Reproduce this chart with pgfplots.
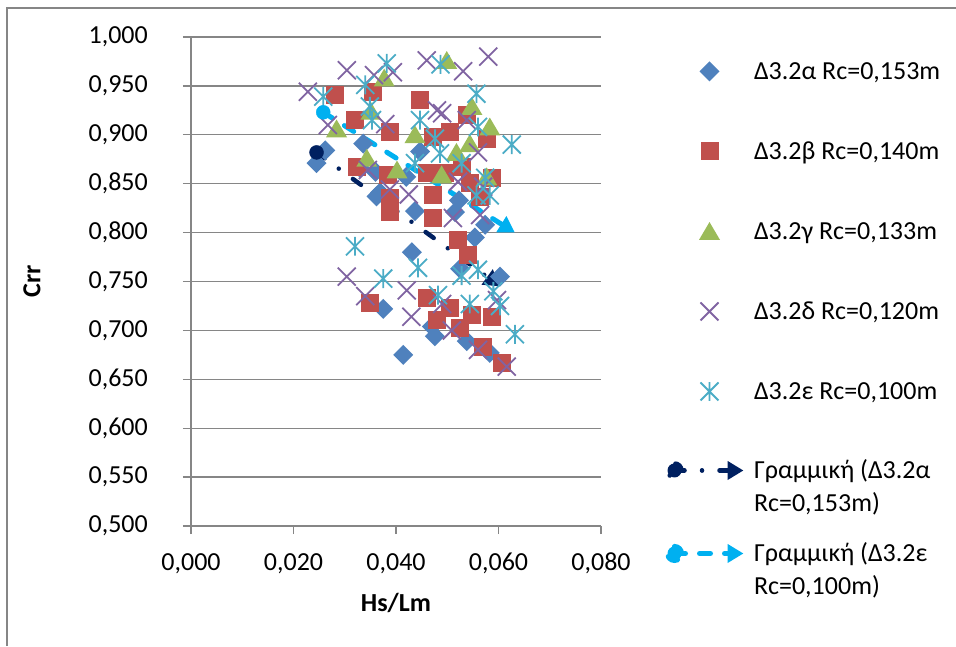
\documentclass[border=0pt]{standalone}
\usepackage{fontspec}
\setmainfont{Carlito}
\usepackage{pgfplots}
\pgfplotsset{compat=1.18}
\usetikzlibrary{arrows.meta}

\definecolor{cA}{HTML}{4F81BD}
\definecolor{cB}{HTML}{C0504D}
\definecolor{cC}{HTML}{9BBB59}
\definecolor{cD}{HTML}{8064A2}
\definecolor{cE}{HTML}{4BACC6}
\definecolor{tnavy}{HTML}{002060}
\definecolor{tblue}{HTML}{00B0F0}
\definecolor{gridgray}{HTML}{868686}

\pgfdeclareplotmark{exdiamond}{%
  \pgfpathmoveto{\pgfqpoint{0pt}{\pgfplotmarksize}}%
  \pgfpathlineto{\pgfqpoint{\pgfplotmarksize}{0pt}}%
  \pgfpathlineto{\pgfqpoint{0pt}{-\pgfplotmarksize}}%
  \pgfpathlineto{\pgfqpoint{-\pgfplotmarksize}{0pt}}%
  \pgfpathclose\pgfusepathqfill}
\pgfdeclareplotmark{extri}{%
  \pgfpathmoveto{\pgfqpoint{0pt}{0.9\pgfplotmarksize}}%
  \pgfpathlineto{\pgfqpoint{\pgfplotmarksize}{-0.8\pgfplotmarksize}}%
  \pgfpathlineto{\pgfqpoint{-\pgfplotmarksize}{-0.8\pgfplotmarksize}}%
  \pgfpathclose\pgfusepathqfill}
\pgfdeclareplotmark{exsq}{%
  \pgfpathrectangle{\pgfqpoint{-\pgfplotmarksize}{-\pgfplotmarksize}}{\pgfqpoint{2\pgfplotmarksize}{2\pgfplotmarksize}}%
  \pgfusepathqfill}
\pgfdeclareplotmark{exx}{%
  \pgfpathmoveto{\pgfqpoint{-\pgfplotmarksize}{-\pgfplotmarksize}}%
  \pgfpathlineto{\pgfqpoint{\pgfplotmarksize}{\pgfplotmarksize}}%
  \pgfpathmoveto{\pgfqpoint{-\pgfplotmarksize}{\pgfplotmarksize}}%
  \pgfpathlineto{\pgfqpoint{\pgfplotmarksize}{-\pgfplotmarksize}}%
  \pgfusepathqstroke}
\pgfdeclareplotmark{exstar}{%
  \pgfpathmoveto{\pgfqpoint{-\pgfplotmarksize}{-\pgfplotmarksize}}%
  \pgfpathlineto{\pgfqpoint{\pgfplotmarksize}{\pgfplotmarksize}}%
  \pgfpathmoveto{\pgfqpoint{-\pgfplotmarksize}{\pgfplotmarksize}}%
  \pgfpathlineto{\pgfqpoint{\pgfplotmarksize}{-\pgfplotmarksize}}%
  \pgfpathmoveto{\pgfqpoint{0pt}{-1.05\pgfplotmarksize}}%
  \pgfpathlineto{\pgfqpoint{0pt}{1.05\pgfplotmarksize}}%
  \pgfusepathqstroke}

\pgfplotsset{
  scat/.style={only marks,
    legend image code/.code={\path[draw=none,fill=none,-] (-43pt,8.5pt) (34pt,8.5pt); \draw[##1] plot coordinates {(0pt,8.5pt)};}},
  trendA/.style={no markers,
    legend image code/.code={\path[draw=none,fill=none,-] (-43pt,8.5pt) (34pt,8.5pt); \draw[##1] (-35pt,8.5pt) -- (34pt,8.5pt); \fill[tnavy] (-35pt,8.5pt) circle (7pt);}},
  trendE/.style={no markers,
    legend image code/.code={\path[draw=none,fill=none,-] (-43pt,8.5pt) (34pt,8.5pt); \draw[##1] (-35pt,8.5pt) -- (34pt,8.5pt); \fill[tblue] (-35pt,8.5pt) circle (7pt);}},
}

\begin{document}
\begin{tikzpicture}
\begin{axis}[
  at={(191pt,120pt)}, anchor=south west,
  scale only axis, width=410pt, height=489pt,
  xmin=0, xmax=0.08, ymin=0.5, ymax=1.0,
  xtick={0,0.02,0.04,0.06,0.08},
  ytick={0.5,0.55,0.6,0.65,0.7,0.75,0.8,0.85,0.9,0.95,1.0},
  scaled ticks=false,
  axis lines=left, axis line style={-, color=gridgray, line width=1.6pt},
  ymajorgrids, grid style={color=gridgray, line width=1.4pt},
  tick align=outside, major tick length=8pt,
  major tick style={color=gridgray, line width=1.4pt},
  tick label style={font=\fontsize{26}{33}\selectfont},
  /pgf/number format/fixed, /pgf/number format/fixed zerofill,
  /pgf/number format/precision=3, /pgf/number format/use comma,
  /pgf/number format/assume math mode=true,
  yticklabel style={anchor=east, inner sep=0pt, xshift=-35pt},
  xticklabel style={anchor=north, inner sep=0pt, yshift=-19pt},
  xlabel={Hs/Lm}, ylabel={Crr},
  every axis x label/.style={at={(axis description cs:0.5,-0.1575)}, anchor=center,
    font=\bfseries\fontsize{26}{33}\selectfont},
  every axis y label/.style={at={(axis description cs:-0.3878,0.5)}, rotate=90, anchor=center,
    font=\bfseries\fontsize{26}{33}\selectfont},
  legend style={at={(axis description cs:1.1561,0.9530)}, anchor=north west,
    draw=none, fill=none, inner sep=0pt, outer sep=0pt, row sep=0pt, column sep=8pt,
    font=\fontsize{26}{33}\selectfont, cells={anchor=base west},
    nodes={inner sep=0pt, text height=20pt, text depth=60pt}},
]
\addplot[scat, mark=exdiamond, mark size=10pt, color=cA] coordinates {
(0.0245,0.871) (0.0262,0.884) (0.0336,0.891) (0.0330,0.866) (0.0362,0.837)
(0.0369,0.841) (0.0360,0.862) (0.0447,0.883) (0.0420,0.857) (0.0437,0.822)
(0.0431,0.780) (0.0515,0.821) (0.0523,0.833) (0.0525,0.763) (0.0554,0.795)
(0.0574,0.808) (0.0603,0.755) (0.0375,0.722) (0.0470,0.704) (0.0476,0.694)
(0.0538,0.689) (0.0414,0.675) (0.0583,0.677)
};
\addlegendentry{Δ3.2α Rc=0,153m}
\addplot[scat, mark=exsq, mark size=9pt, color=cB] coordinates {
(0.0281,0.941) (0.0320,0.915) (0.0355,0.944) (0.0388,0.903) (0.0323,0.867)
(0.0384,0.859) (0.0388,0.835) (0.0388,0.821) (0.0447,0.936) (0.0472,0.898)
(0.0505,0.903) (0.0538,0.920) (0.0577,0.896) (0.0460,0.861) (0.0496,0.861)
(0.0528,0.867) (0.0587,0.856) (0.0544,0.851) (0.0472,0.838) (0.0472,0.815)
(0.0564,0.836) (0.0521,0.792) (0.0540,0.777) (0.0349,0.728) (0.0460,0.733)
(0.0505,0.723) (0.0480,0.711) (0.0525,0.702) (0.0548,0.716) (0.0587,0.714)
(0.0570,0.683) (0.0606,0.667)
};
\addlegendentry{Δ3.2β Rc=0,140m}
\addplot[scat, mark=extri, mark size=10.5pt, color=cC] coordinates {
(0.0284,0.906) (0.0343,0.876) (0.0351,0.924) (0.0377,0.958) (0.0402,0.864)
(0.0437,0.900) (0.0489,0.859) (0.0499,0.976) (0.0518,0.882) (0.0544,0.891)
(0.0548,0.929) (0.0583,0.908) (0.0577,0.857)
};
\addlegendentry{Δ3.2γ Rc=0,133m}
\addplot[scat, mark=exx, mark size=9pt, color=cD, mark options={line width=1.8pt}] coordinates {
(0.0228,0.944) (0.0304,0.966) (0.0267,0.910) (0.0357,0.961) (0.0394,0.964)
(0.0379,0.911) (0.0345,0.864) (0.0388,0.844) (0.0460,0.976) (0.0531,0.965)
(0.0580,0.980) (0.0480,0.925) (0.0490,0.922) (0.0538,0.915) (0.0560,0.882)
(0.0521,0.852) (0.0570,0.847) (0.0425,0.839) (0.0511,0.815) (0.0564,0.818)
(0.0304,0.755) (0.0340,0.735) (0.0421,0.741) (0.0430,0.714) (0.0490,0.727)
(0.0509,0.700) (0.0597,0.731) (0.0560,0.680) (0.0616,0.663)
};
\addlegendentry{Δ3.2δ Rc=0,120m}
\addplot[scat, mark=exstar, mark size=9pt, color=cE, mark options={line width=1.8pt}] coordinates {
(0.0258,0.939) (0.0340,0.951) (0.0349,0.929) (0.0353,0.915) (0.0382,0.973)
(0.0447,0.915) (0.0487,0.972) (0.0557,0.942) (0.0476,0.896) (0.0560,0.908)
(0.0626,0.890) (0.0486,0.881) (0.0528,0.871) (0.0437,0.871) (0.0574,0.856)
(0.0557,0.838) (0.0583,0.838) (0.0320,0.786) (0.0375,0.753) (0.0443,0.764)
(0.0482,0.736) (0.0528,0.756) (0.0560,0.762) (0.0544,0.727) (0.0603,0.725)
(0.0590,0.740) (0.0632,0.696)
};
\addlegendentry[text depth=59pt]{Δ3.2ε Rc=0,100m}
\addplot[trendA, color=tnavy, line width=4.5pt, line cap=round,
  dash pattern=on 10pt off 17.5pt on 0.01pt off 17.5pt,
  -{Triangle[length=16pt,width=18pt]}] coordinates {(0.0245,0.882) (0.0603,0.745)};
\addlegendentry[text depth=63pt]{\vtop{\hbox{Γραμμική (Δ3.2α}\hbox{Rc=0,153m)}}}
\addplot[trendE, color=tblue, line width=5pt, line cap=round,
  dash pattern=on 11pt off 14pt,
  -{Triangle[length=16pt,width=18pt]}] coordinates {(0.0258,0.923) (0.0632,0.800)};
\addlegendentry{\vtop{\hbox{Γραμμική (Δ3.2ε}\hbox{Rc=0,100m)}}}
\addplot[only marks, mark=*, mark size=7pt, color=tnavy, forget plot] coordinates {(0.0245,0.882)};
\addplot[only marks, mark=*, mark size=7pt, color=tblue, forget plot] coordinates {(0.0258,0.923)};
\end{axis}
\draw[color=gridgray, line width=1.5pt] (7pt,0pt) -- (7pt,638pt) -- (956pt,638pt);
\pgfresetboundingbox
\path[use as bounding box] (0pt,0pt) rectangle (956pt,646pt);
\end{tikzpicture}
\end{document}
